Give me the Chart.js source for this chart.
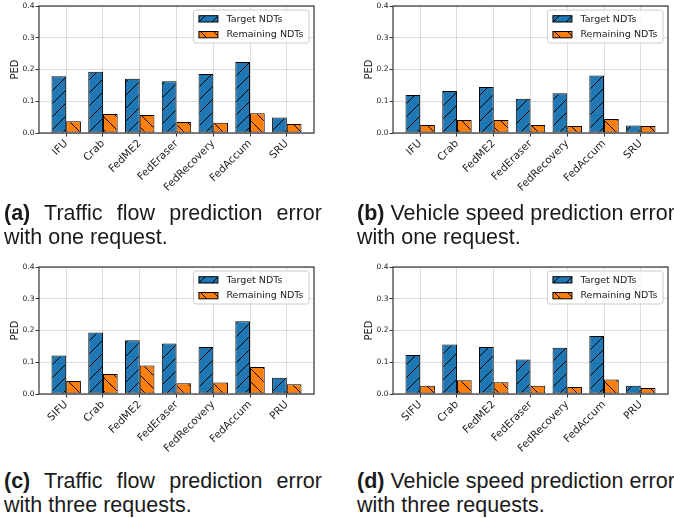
<!DOCTYPE html>
<html>
<head>
<meta charset="utf-8">
<title>PED of target and remaining NDTs</title>
<script src="https://cdn.jsdelivr.net/npm/chart.js"></script>
<style>
    body { margin: 0; width: 674px; height: 518px; overflow: hidden; background: #fff; position: relative; }
    canvas { position: absolute; }
    .cap { position: absolute; font-family: "Liberation Sans", Arial, sans-serif; font-size: 21.5px; line-height: 23px; color: #1a1a1a; transform: scaleY(1.06); transform-origin: 0 0; }
    .cap div { white-space: nowrap; }
    .cap .just { width: 318px; white-space: normal; text-align: justify; text-align-last: justify; }
</style>
</head>
<body>
<canvas id="flowOne" width="320" height="200" style="left:0;top:0"></canvas>
<canvas id="speedOne" width="320" height="200" style="left:354px;top:0"></canvas>
<canvas id="flowThree" width="320" height="200" style="left:0;top:261px"></canvas>
<canvas id="speedThree" width="320" height="200" style="left:354px;top:261px"></canvas>

<div class="cap" style="left:4px;top:201px"><div class="just"><b>(a)</b> Traffic flow prediction error</div><div>with one request.</div></div>
<div class="cap" style="left:357px;top:201px"><div><b>(b)</b> Vehicle speed prediction error</div><div>with one request.</div></div>
<div class="cap" style="left:4px;top:469px"><div class="just"><b>(c)</b> Traffic flow prediction error</div><div>with three requests.</div></div>
<div class="cap" style="left:357px;top:469px"><div><b>(d)</b> Vehicle speed prediction error</div><div>with three requests.</div></div>

<script>
// data
var seriesNames = ['Target NDTs', 'Remaining NDTs'];
var oneCats = ['IFU', 'Crab', 'FedME2', 'FedEraser', 'FedRecovery', 'FedAccum', 'SRU'];
var threeCats = ['SIFU', 'Crab', 'FedME2', 'FedEraser', 'FedRecovery', 'FedAccum', 'PRU'];
var yTicks = [0, 0.1, 0.2, 0.3, 0.4];

var flowOneTarget = [0.179, 0.193, 0.171, 0.163, 0.186, 0.224, 0.049];
var flowOneRemain = [0.037, 0.060, 0.057, 0.035, 0.032, 0.062, 0.028];
var speedOneTarget = [0.120, 0.132, 0.145, 0.108, 0.125, 0.181, 0.024];
var speedOneRemain = [0.025, 0.041, 0.041, 0.025, 0.022, 0.044, 0.022];
var flowThreeTarget = [0.121, 0.194, 0.169, 0.159, 0.148, 0.229, 0.051];
var flowThreeRemain = [0.041, 0.063, 0.090, 0.034, 0.036, 0.085, 0.031];
var speedThreeTarget = [0.123, 0.156, 0.148, 0.109, 0.146, 0.183, 0.026];
var speedThreeRemain = [0.026, 0.043, 0.037, 0.026, 0.022, 0.046, 0.019];

var BLUE = '#1f77b4', ORANGE = '#ff7f0e';
var FONT = "'DejaVu Sans', sans-serif";

function hatch(ctx, color, dir) {
    var s = 13;
    var c = document.createElement('canvas');
    c.width = c.height = s;
    var g = c.getContext('2d');
    g.fillStyle = color;
    g.fillRect(0, 0, s, s);
    g.strokeStyle = '#000';
    g.lineWidth = 1;
    g.beginPath();
    if (dir === '/') {
        g.moveTo(0, s); g.lineTo(s, 0);
        g.moveTo(-1, 1); g.lineTo(1, -1);
        g.moveTo(s - 1, s + 1); g.lineTo(s + 1, s - 1);
    } else {
        g.moveTo(0, 0); g.lineTo(s, s);
        g.moveTo(-1, s - 1); g.lineTo(1, s + 1);
        g.moveTo(s - 1, -1); g.lineTo(s + 1, 1);
    }
    g.stroke();
    return ctx.createPattern(c, 'repeat');
}

// axes frame on top of the bars
var framePlugin = {
    id: 'frame',
    afterDatasetsDraw: function(chart) {
        var ctx = chart.ctx, a = chart.chartArea;
        ctx.save();
        ctx.strokeStyle = '#333';
        ctx.lineWidth = 1.2;
        ctx.strokeRect(a.left, a.top, a.right - a.left, a.bottom - a.top);
        ctx.restore();
    }
};

function roundBox(ctx, x, y, w, h, r) {
    ctx.beginPath();
    ctx.moveTo(x + r, y);
    ctx.lineTo(x + w - r, y);
    ctx.arcTo(x + w, y, x + w, y + r, r);
    ctx.lineTo(x + w, y + h - r);
    ctx.arcTo(x + w, y + h, x + w - r, y + h, r);
    ctx.lineTo(x + r, y + h);
    ctx.arcTo(x, y + h, x, y + h - r, r);
    ctx.lineTo(x, y + r);
    ctx.arcTo(x, y, x + r, y, r);
    ctx.closePath();
}

// matplotlib-like legend in the upper right corner
var legendPlugin = {
    id: 'boxLegend',
    afterDraw: function(chart) {
        var ctx = chart.ctx, a = chart.chartArea;
        var sets = chart.data.datasets;
        ctx.save();
        ctx.font = '9.5px ' + FONT;
        var tw = 0;
        sets.forEach(function(d) { tw = Math.max(tw, ctx.measureText(d.label).width); });
        var w = 5.5 + 19 + 8.5 + tw + 5.5, h = 33;
        var x = a.right - 5 - w, y = a.top + 4;
        roundBox(ctx, x, y, w, h, 2.5);
        ctx.fillStyle = 'rgba(255,255,255,0.85)';
        ctx.fill();
        ctx.strokeStyle = '#cccccc';
        ctx.lineWidth = 1;
        ctx.stroke();
        sets.forEach(function(d, i) {
            var cy = y + 8.7 + i * 15.8;
            ctx.fillStyle = d.backgroundColor;
            ctx.fillRect(x + 5.5, cy - 3, 19, 6.3);
            ctx.strokeStyle = '#000';
            ctx.lineWidth = 1;
            ctx.strokeRect(x + 5.5, cy - 3, 19, 6.3);
            ctx.fillStyle = '#222';
            ctx.textBaseline = 'middle';
            ctx.fillText(d.label, x + 5.5 + 19 + 8.5, cy + 0.5);
        });
        ctx.restore();
    }
};

function drawPanel(id, cats, target, remain) {
    var canvas = document.getElementById(id);
    var ctx = canvas.getContext('2d');
    var H = canvas.height;
    var toPoints = function(vals) { return vals.map(function(v, i) { return { x: i, y: v }; }); };
    return new Chart(ctx, {
        type: 'bar',
        data: {
            datasets: [{
                label: seriesNames[0],
                data: toPoints(target),
                backgroundColor: hatch(ctx, BLUE, '/'),
                borderColor: '#000',
                borderWidth: 1,
                borderSkipped: false
            }, {
                label: seriesNames[1],
                data: toPoints(remain),
                backgroundColor: hatch(ctx, ORANGE, '\\'),
                borderColor: '#000',
                borderWidth: 1,
                borderSkipped: false
            }]
        },
        options: {
            responsive: false,
            animation: false,
            devicePixelRatio: 1,
            layout: { padding: { top: 6, right: 6, left: 0, bottom: 0 } },
            categoryPercentage: 0.8,
            barPercentage: 1.0,
            plugins: {
                legend: { display: false },
                tooltip: { enabled: false }
            },
            scales: {
                x: {
                    type: 'linear',
                    offset: false,
                    min: -0.74,
                    max: cats.length - 1 + 0.74,
                    afterFit: function(s) { s.height = H - 133; },
                    afterBuildTicks: function(s) {
                        s.ticks = cats.map(function(c, i) { return { value: i }; });
                    },
                    grid: { offset: false, color: 'rgba(176,176,176,0.55)', lineWidth: 0.8, tickLength: 3.5, tickColor: '#333', tickWidth: 1 },
                    border: { display: false },
                    ticks: {
                        autoSkip: false,
                        maxRotation: 45,
                        minRotation: 45,
                        padding: 1,
                        color: '#222',
                        font: { family: FONT, size: 10.5 },
                        callback: function(v, i) { return cats[i]; }
                    }
                },
                y: {
                    min: yTicks[0],
                    max: yTicks[yTicks.length - 1],
                    afterFit: function(s) { s.width = 39; },
                    afterBuildTicks: function(s) {
                        s.ticks = yTicks.map(function(v) { return { value: v }; });
                    },
                    grid: { color: 'rgba(176,176,176,0.55)', lineWidth: 0.8, tickLength: 3.5, tickColor: '#333', tickWidth: 1 },
                    border: { display: false },
                    ticks: {
                        padding: 1,
                        color: '#222',
                        font: { family: FONT, size: 7.5 },
                        callback: function(v) { return v.toFixed(1); }
                    },
                    title: {
                        display: true,
                        text: 'PED',
                        color: '#222',
                        font: { family: FONT, size: 10 },
                        padding: { top: 9.5, bottom: 0 }
                    }
                }
            }
        },
        plugins: [framePlugin, legendPlugin]
    });
}

drawPanel('flowOne', oneCats, flowOneTarget, flowOneRemain);
drawPanel('speedOne', oneCats, speedOneTarget, speedOneRemain);
drawPanel('flowThree', threeCats, flowThreeTarget, flowThreeRemain);
drawPanel('speedThree', threeCats, speedThreeTarget, speedThreeRemain);
</script>
</body>
</html>
